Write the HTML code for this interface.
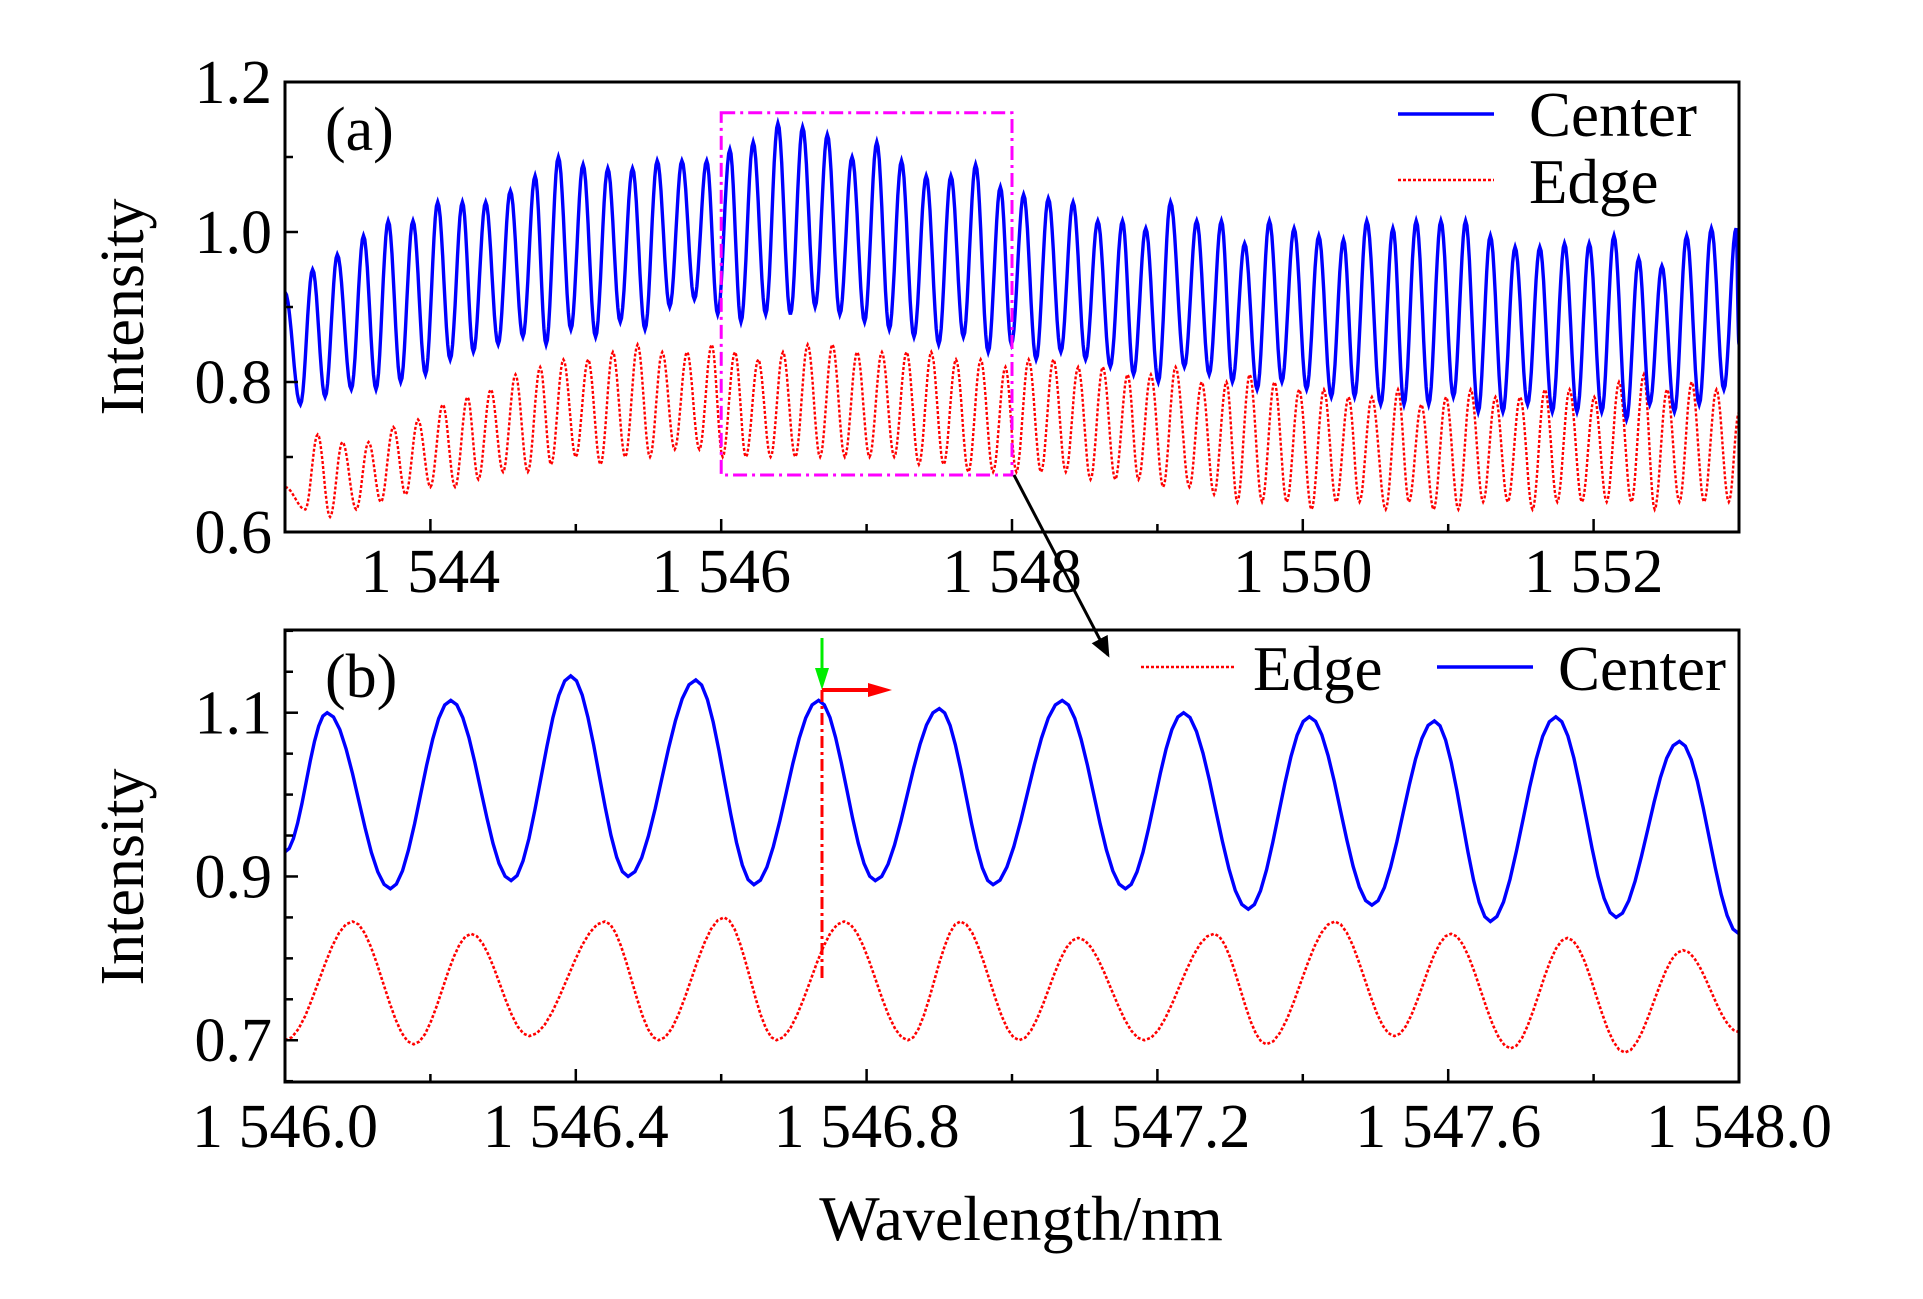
<!DOCTYPE html>
<html><head><meta charset="utf-8">
<style>
html,body{margin:0;padding:0;background:#fff;}
svg{display:block;font-family:"Liberation Serif",serif;}
</style></head>
<body>
<svg id="chart" width="1923" height="1299" viewBox="0 0 1923 1299" xmlns="http://www.w3.org/2000/svg">
<defs>
<clipPath id="clipA"><rect x="285" y="82" width="1454" height="450"/></clipPath>
<clipPath id="clipB"><rect x="285" y="630" width="1454" height="452"/></clipPath>
<marker id="arrBlack" markerWidth="8" markerHeight="8" refX="6" refY="4" orient="auto" markerUnits="strokeWidth"><path d="M0,1 L7,4 L0,7 Z" fill="#000"/></marker>
</defs>
<g id="panelA"></g>
<g id="panelB"></g>
<text x="1021" y="1240" font-size="64" text-anchor="middle">Wavelength/nm</text>
</svg>
<script>
// ---- Panel (a) data ----
const aPeakLambda = [1543.19,1543.36,1543.54,1543.71,1543.88,1544.05,1544.22,1544.38,1544.55,1544.72,1544.88,1545.05,1545.22,1545.39,1545.56,1545.73,1545.90,1546.06,1546.22,1546.39,1546.56,1546.73,1546.90,1547.07,1547.24,1547.41,1547.58,1547.75,1547.92,1548.08,1548.25,1548.42,1548.59,1548.76,1548.92,1549.09,1549.27,1549.44,1549.60,1549.77,1549.94,1550.11,1550.28,1550.44,1550.62,1550.78,1550.95,1551.12,1551.29,1551.46,1551.63,1551.80,1551.97,1552.14,1552.31,1552.47,1552.64,1552.81,1552.98];
const aCenterPeaks = [0.95,0.97,0.995,1.015,1.015,1.04,1.04,1.04,1.055,1.075,1.10,1.09,1.085,1.085,1.095,1.095,1.095,1.11,1.12,1.145,1.14,1.13,1.10,1.12,1.095,1.075,1.075,1.09,1.06,1.05,1.045,1.04,1.015,1.015,1.005,1.04,1.015,1.015,0.985,1.015,1.005,0.995,0.99,1.015,1.005,1.015,1.015,1.015,0.995,0.98,0.98,0.985,0.985,0.995,0.965,0.955,0.995,1.005,1.005];
const aCenterTroughs = [0.77,0.78,0.79,0.79,0.80,0.81,0.83,0.84,0.85,0.86,0.85,0.87,0.86,0.88,0.87,0.90,0.91,0.89,0.88,0.89,0.89,0.90,0.89,0.88,0.87,0.86,0.85,0.86,0.84,0.85,0.83,0.84,0.83,0.82,0.81,0.80,0.82,0.81,0.80,0.79,0.80,0.79,0.78,0.78,0.77,0.77,0.77,0.78,0.76,0.76,0.77,0.76,0.76,0.76,0.75,0.77,0.76,0.77,0.79];
const aEdgePeaks = [0.73,0.72,0.72,0.74,0.75,0.77,0.78,0.79,0.81,0.82,0.83,0.83,0.84,0.85,0.84,0.84,0.85,0.84,0.83,0.84,0.85,0.85,0.84,0.84,0.84,0.84,0.83,0.83,0.82,0.83,0.83,0.82,0.82,0.81,0.81,0.82,0.80,0.80,0.81,0.80,0.79,0.79,0.78,0.78,0.79,0.77,0.78,0.79,0.78,0.78,0.79,0.79,0.78,0.80,0.81,0.79,0.80,0.79,0.76];
const aEdgeTroughs = [0.63,0.62,0.63,0.64,0.65,0.66,0.66,0.67,0.68,0.68,0.69,0.70,0.69,0.70,0.70,0.71,0.71,0.70,0.70,0.70,0.70,0.70,0.70,0.70,0.70,0.69,0.69,0.68,0.68,0.68,0.68,0.68,0.67,0.67,0.67,0.66,0.66,0.65,0.64,0.64,0.64,0.63,0.64,0.64,0.63,0.64,0.63,0.63,0.64,0.64,0.63,0.64,0.64,0.64,0.64,0.63,0.64,0.64,0.64];
const aXTicks = [1544,1546,1548,1550,1552];
const aXTickLabels = ["1 544","1 546","1 548","1 550","1 552"];
const aYTicks = [0.6,0.8,1.0,1.2];
const aYTickLabels = ["0.6","0.8","1.0","1.2"];

// ---- Panel (b) data ----
const bCenterLambda = [1546.00,1546.058,1546.145,1546.228,1546.311,1546.393,1546.472,1546.565,1546.645,1546.734,1546.812,1546.900,1546.974,1547.069,1547.156,1547.236,1547.325,1547.409,1547.495,1547.581,1547.658,1547.748,1547.831,1547.918,2e9];
const bCenterValues = [0.93,1.10,0.885,1.115,0.895,1.145,0.90,1.14,0.89,1.115,0.895,1.105,0.89,1.115,0.885,1.10,0.86,1.095,0.865,1.09,0.845,1.095,0.85,1.065,0.83];
const bEdgeLambda = [1546.00,1546.093,1546.177,1546.256,1546.336,1546.440,1546.514,1546.604,1546.676,1546.769,1546.857,1546.929,1547.010,1547.091,1547.182,1547.278,1547.350,1547.444,1547.526,1547.604,1547.686,1547.764,1547.843,1547.923,1548.00];
const bEdgeValues = [0.70,0.845,0.695,0.83,0.705,0.845,0.70,0.85,0.70,0.845,0.70,0.845,0.70,0.825,0.70,0.83,0.695,0.845,0.705,0.83,0.69,0.825,0.685,0.81,0.71];
const bXTicks = [1546.0,1546.4,1546.8,1547.2,1547.6,1548.0];
const bXTickLabels = ["1 546.0","1 546.4","1 546.8","1 547.2","1 547.6","1 548.0"];
const bYTicks = [0.7,0.9,1.1];
const bYTickLabels = ["0.7","0.9","1.1"];

const NS = "http://www.w3.org/2000/svg";
function mk(tag, attrs, parent){const e=document.createElementNS(NS,tag);for(const k in attrs)e.setAttribute(k,attrs[k]);parent.appendChild(e);return e;}

const L=285,R=1739;
const axA={x0:1543,x1:1553,y0:0.6,y1:1.2,top:82,bot:532};
const axB={x0:1546,x1:1548,y0:0.649,y1:1.201,top:630,bot:1082};
function sx(ax,v){return L+(v-ax.x0)/(ax.x1-ax.x0)*(R-L);}
function sy(ax,v){return ax.bot-(v-ax.y0)/(ax.y1-ax.y0)*(ax.bot-ax.top);}

function curvePath(ax, lam, val){
  let d="";
  for(let i=0;i<lam.length;i++){
    const la=Math.min(lam[i],ax.x1);
    if(i===0){d+="M"+sx(ax,la).toFixed(1)+","+sy(ax,val[i]).toFixed(1);continue;}
    const lp=Math.min(lam[i-1],ax.x1);
    const n=10;
    for(let k=1;k<=n;k++){
      const t=k/n, s=(1-Math.cos(Math.PI*t))/2;
      const x=lp+(la-lp)*t, y=val[i-1]+(val[i]-val[i-1])*s;
      d+=" L"+sx(ax,x).toFixed(1)+","+sy(ax,y).toFixed(1);
    }
  }
  return d;
}

const gA=document.getElementById("panelA");
const gB=document.getElementById("panelB");

// Build panel (a) extrema sequences
const aCL=[1543.0], aCV=[0.92], aEL=[1543.0], aEV=[0.66];
for(let i=0;i<aPeakLambda.length;i++){
  aCL.push(aPeakLambda[i]-0.084); aCV.push(aCenterTroughs[i]);
  aCL.push(aPeakLambda[i]); aCV.push(aCenterPeaks[i]);
  aEL.push(aPeakLambda[i]-0.05); aEV.push(aEdgeTroughs[i]);
  aEL.push(aPeakLambda[i]+0.035); aEV.push(aEdgePeaks[i]);
}
aCL.push(1553.2); aCV.push(0.85);
aEL.push(1553.1); aEV.push(0.66);

const sA=mk("g",{"clip-path":"url(#clipA)"},gA);
const eA=mk("path",{d:curvePath(axA,aEL,aEV),fill:"none",stroke:"#ff0000","stroke-width":2.4,"stroke-dasharray":"3,2"},sA);


const cA=mk("path",{d:curvePath(axA,aCL,aCV),fill:"none",stroke:"#0000ff","stroke-width":3.4},sA);



const sB=mk("g",{"clip-path":"url(#clipB)"},gB);
const eB=mk("path",{d:curvePath(axB,bEdgeLambda,bEdgeValues),fill:"none",stroke:"#ff0000","stroke-width":2.6,"stroke-dasharray":"3,2"},sB);


const cB=mk("path",{d:curvePath(axB,bCenterLambda,bCenterValues),fill:"none",stroke:"#0000ff","stroke-width":3.4},sB);



// axes frames and ticks
function axes(g, ax, xt, xl, yt, yl, xMinorStep, yMinorStep, xLabY, nameP){
  const fr=mk("rect",{x:L,y:ax.top,width:R-L,height:ax.bot-ax.top,fill:"none",stroke:"#000","stroke-width":3},g);
  
  
  for(let v=ax.x0; v<=ax.x1+1e-9; v+=xMinorStep){
    const isMaj=xt.some(t=>Math.abs(t-v)<1e-6);
    const x=sx(ax,v);
    mk("line",{x1:x,x2:x,y1:ax.bot,y2:ax.bot-(isMaj?13:8),stroke:"#000","stroke-width":2.5},g);
  }
  for(let i=0;i<xt.length;i++){
    const t=mk("text",{x:sx(ax,xt[i]),y:xLabY,"font-size":62,"text-anchor":"middle"},g);
    t.textContent=xl[i];
    
    
  }
  const start=Math.ceil(ax.y0/yMinorStep-1e-9)*yMinorStep;
  for(let v=start; v<=ax.y1+1e-9; v+=yMinorStep){
    const isMaj=yt.some(t=>Math.abs(t-v)<1e-6);
    const y=sy(ax,v);
    mk("line",{x1:L,x2:L+(isMaj?13:8),y1:y,y2:y,stroke:"#000","stroke-width":2.5},g);
  }
  for(let i=0;i<yt.length;i++){
    const t=mk("text",{x:272,y:sy(ax,yt[i])+21,"font-size":62,"text-anchor":"end"},g);
    t.textContent=yl[i];
    
    
  }
}
axes(gA,axA,aXTicks,aXTickLabels,aYTicks,aYTickLabels,1,0.1,592,'panel-a');
axes(gB,axB,bXTicks,bXTickLabels,bYTicks,bYTickLabels,0.2,0.05,1147,'panel-b');

// y titles
const yA=mk("text",{x:0,y:0,"font-size":62,"text-anchor":"middle",transform:"translate(143,307) rotate(-90)"},gA);
yA.textContent="Intensity";


const yB=mk("text",{x:0,y:0,"font-size":62,"text-anchor":"middle",transform:"translate(143,877) rotate(-90)"},gB);
yB.textContent="Intensity";



// panel letters
const la=mk("text",{x:325,y:150,"font-size":62},gA); la.textContent="(a)";


const lb=mk("text",{x:325,y:697,"font-size":62},gB); lb.textContent="(b)";



// legend (a)
const lgA=mk("g",{},gA);


mk("line",{x1:1398,x2:1494,y1:114,y2:114,stroke:"#0000ff","stroke-width":3.5},lgA);
const t1=mk("text",{x:1529,y:136,"font-size":63},lgA); t1.textContent="Center";
mk("line",{x1:1398,x2:1494,y1:180,y2:180,stroke:"#ff0000","stroke-width":2.5,"stroke-dasharray":"3,2"},lgA);
const t2=mk("text",{x:1529,y:203,"font-size":63},lgA); t2.textContent="Edge";

// legend (b)
const lgB=mk("g",{},gB);


mk("line",{x1:1141,x2:1236,y1:667,y2:667,stroke:"#ff0000","stroke-width":2.5,"stroke-dasharray":"3,2"},lgB);
const t3=mk("text",{x:1253,y:690,"font-size":63},lgB); t3.textContent="Edge";
mk("line",{x1:1437,x2:1533,y1:667,y2:667,stroke:"#0000ff","stroke-width":3.5},lgB);
const t4=mk("text",{x:1558,y:690,"font-size":63},lgB); t4.textContent="Center";

// zoom box & arrow
const zb=mk("rect",{x:sx(axA,1546),y:sy(axA,1.159),width:sx(axA,1548)-sx(axA,1546),height:sy(axA,0.676)-sy(axA,1.159),fill:"none",stroke:"#ff00ff","stroke-width":3,"stroke-dasharray":"14,5,3,5"},gA);


const ar=mk("line",{x1:1014,y1:475,x2:1108,y2:655,stroke:"#000","stroke-width":3,"marker-end":"url(#arrBlack)"},gA);



// markers in (b)
const mv=mk("line",{x1:822,x2:822,y1:690,y2:981,stroke:"#ff0000","stroke-width":3,"stroke-dasharray":"12,4,3,4"},gB);


const ga=mk("g",{},gB);


mk("line",{x1:822,x2:822,y1:638,y2:672,stroke:"#00ee00","stroke-width":3},ga);
mk("path",{d:"M815,668 L829,668 L822,690 Z",fill:"#00ee00"},ga);
const ra=mk("g",{},gB);


mk("line",{x1:822,x2:872,y1:690,y2:690,stroke:"#ff0000","stroke-width":4},ra);
mk("path",{d:"M868,683 L892,690 L868,697 Z",fill:"#ff0000"},ra);
</script>
</body></html>
